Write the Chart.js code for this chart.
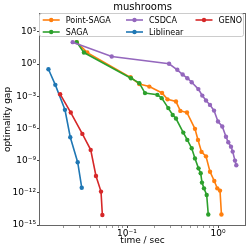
<!DOCTYPE html>
<html><head><meta charset="utf-8">
<script src="https://cdn.jsdelivr.net/npm/chart.js@4.4.1/dist/chart.umd.min.js"></script>
<style>html,body{margin:0;padding:0;background:#fff;overflow:hidden}#wrap{width:249px;height:249px;position:relative}</style>
</head><body><div id="wrap"><canvas id="c" width="249" height="249"></canvas></div>
<script>
const chartTitle = 'mushrooms';
const xAxisTitle = 'time / sec';
const yAxisTitle = 'optimality gap';
const seriesNames = ['Point-SAGA', 'SAGA', 'CSDCA', 'Liblinear', 'GENO'];
const seriesColors = ['#ff7f0e', '#2ca02c', '#9467bd', '#1f77b4', '#d62728'];

const pointSagaTime = [0.0280, 0.0366, 0.1092, 0.1365, 0.1758, 0.2427, 0.2786, 0.3453, 0.3854, 0.4560, 0.5585, 0.6026, 0.6592, 0.7380, 0.817, 0.910, 0.982, 1.052, 1.091];
const pointSagaGap  = [110, 11.7, 0.058, 0.014, 7.9e-3, 2.0e-3, 5.1e-4, 3.2e-4, 4.3e-5, 3.0e-5, 9.1e-7, 8.5e-8, 6.5e-9, 2.5e-9, 9.3e-11, 1.26e-11, 2.6e-12, 1.6e-12, 9.5e-15];

const sagaTime = [0.0280, 0.0336, 0.1107, 0.1365, 0.1577, 0.2155, 0.2406, 0.2843, 0.3178, 0.3453, 0.4155, 0.4600, 0.5140, 0.5585, 0.6105, 0.6453, 0.6668, 0.7015, 0.7510, 0.7816];
const sagaGap  = [110, 11.7, 0.048, 0.0166, 1.95e-3, 1.35e-3, 6.6e-4, 7.8e-5, 1.8e-5, 8.3e-6, 4.1e-7, 8.5e-8, 1.4e-8, 1.6e-9, 1.9e-10, 6.6e-11, 8.9e-12, 2.6e-12, 6.3e-13, 9.5e-15];

const csdcaTime = [0.0253, 0.0679, 0.290, 0.357, 0.409, 0.460, 0.514, 0.608, 0.672, 0.738, 0.817, 0.904, 1.0, 1.114, 1.224, 1.297, 1.389, 1.45, 1.537, 1.589];
const csdcaGap  = [110, 5.0, 1.05, 0.29, 0.105, 0.048, 0.020, 4.6e-3, 1.15e-3, 4.0e-4, 1.55e-4, 4.6e-5, 4.4e-6, 1.5e-6, 1.7e-7, 5.1e-8, 2.0e-8, 6.9e-9, 1.0e-9, 3.7e-10];

const liblinearTime = [0.0137, 0.0163, 0.0208, 0.0238, 0.0287, 0.0318];
const liblinearGap  = [0.33, 1.15e-2, 5.4e-5, 1.5e-7, 7.1e-10, 3.0e-12];

const genoTime = [0.0184, 0.0241, 0.0323, 0.0399, 0.0456, 0.0518, 0.0536];
const genoGap  = [1.55e-3, 3.0e-5, 3.1e-7, 1.0e-8, 3.7e-11, 1.3e-12, 8.5e-15];

const xMin = 0.01106, xMax = 1.98;
const yMin = 1e-15, yMax = 4.6e4;
const xTickValues = [0.02, 0.03, 0.04, 0.05, 0.06, 0.07, 0.08, 0.09, 0.1, 0.2, 0.3, 0.4, 0.5, 0.6, 0.7, 0.8, 0.9, 1];
const xMajorValues = [0.1, 1];
const xMajorLabels = ['10⁻¹', '10⁰'];
const yTickValues = [1e3, 1, 1e-3, 1e-6, 1e-9, 1e-12, 1e-15];
const yTickLabels = ['10³', '10⁰', '10⁻³', '10⁻⁶', '10⁻⁹', '10⁻¹²', '10⁻¹⁵'];

const allTimes = [pointSagaTime, sagaTime, csdcaTime, liblinearTime, genoTime];
const allGaps = [pointSagaGap, sagaGap, csdcaGap, liblinearGap, genoGap];

const FONT = 'DejaVu Sans';

function near(a, b) { return Math.abs(Math.log10(a) - Math.log10(b)) < 1e-6; }

const datasets = seriesNames.map((name, i) => ({
  label: name,
  data: allTimes[i].map((t, k) => ({x: t, y: allGaps[i][k]})),
  borderColor: seriesColors[i],
  backgroundColor: seriesColors[i],
  borderWidth: 1.6,
  pointRadius: 2.2,
  pointBorderWidth: 0,
  pointHoverRadius: 2.2,
  tension: 0,
  fill: false,
  order: seriesNames.length - i
}));

const framePlugin = {
  id: 'frame',
  afterDatasetsDraw(chart) {
    const a = chart.chartArea, ctx = chart.ctx;
    ctx.save();
    ctx.strokeStyle = '#666';
    ctx.lineWidth = 1;
    ctx.strokeRect(a.left - 0.5, a.top - 0.5, a.right - a.left + 1, a.bottom - a.top + 1);
    ctx.restore();
  },
  afterDraw(chart) {
    const a = chart.chartArea, ctx = chart.ctx;
    ctx.save();
    ctx.fillStyle = '#000';
    ctx.font = '10px "' + FONT + '"';
    ctx.textAlign = 'center';
    ctx.textBaseline = 'middle';
    ctx.fillText(chartTitle, (a.left + a.right) / 2, 7);
    const bx = a.left - 0.5, by = a.top - 0.5, bw = a.right - a.left - 1, bh = 23;
    const r = 2;
    ctx.beginPath();
    ctx.moveTo(bx + r, by);
    ctx.lineTo(bx + bw - r, by); ctx.arcTo(bx + bw, by, bx + bw, by + r, r);
    ctx.lineTo(bx + bw, by + bh - r); ctx.arcTo(bx + bw, by + bh, bx + bw - r, by + bh, r);
    ctx.lineTo(bx + r, by + bh); ctx.arcTo(bx, by + bh, bx, by + bh - r, r);
    ctx.lineTo(bx, by + r); ctx.arcTo(bx, by, bx + r, by, r);
    ctx.closePath();
    ctx.fillStyle = 'rgba(255,255,255,0.8)';
    ctx.fill();
    ctx.strokeStyle = '#cccccc';
    ctx.lineWidth = 1;
    ctx.stroke();
    const colX = [a.left + 2.7, a.left + 86, a.left + 155.5];
    const rowY = [a.top + 6, a.top + 18];
    ctx.font = '8px "' + FONT + '"';
    ctx.textAlign = 'left';
    ctx.textBaseline = 'middle';
    seriesNames.forEach((name, i) => {
      const x = colX[Math.floor(i / 2)], y = rowY[i % 2];
      ctx.strokeStyle = seriesColors[i];
      ctx.lineWidth = 1.6;
      ctx.beginPath(); ctx.moveTo(x, y); ctx.lineTo(x + 17, y); ctx.stroke();
      ctx.fillStyle = seriesColors[i];
      ctx.beginPath(); ctx.arc(x + 8.5, y, 2.2, 0, Math.PI * 2); ctx.fill();
      ctx.fillStyle = '#000';
      ctx.fillText(name, x + 23, y + 0.5);
    });
    ctx.restore();
  }
};

new Chart(document.getElementById('c'), {
  type: 'line',
  data: { datasets },
  options: {
    responsive: false,
    animation: false,
    devicePixelRatio: 1,
    layout: { padding: { top: 14, right: 4, left: 0, bottom: 0 } },
    plugins: { legend: { display: false }, title: { display: false }, tooltip: { enabled: false } },
    scales: {
      x: {
        type: 'logarithmic',
        min: xMin, max: xMax,
        afterBuildTicks(scale) { scale.ticks = xTickValues.map(v => ({ value: v, major: xMajorValues.some(m => near(m, v)) })); },
        afterFit(scale) { scale.height = 24; },
        ticks: {
          autoSkip: false, maxRotation: 0, minRotation: 0, padding: 0,
          color: '#000', font: { family: FONT, size: 9 },
          callback(v) { const k = xMajorValues.findIndex(m => near(m, v)); return k >= 0 ? xMajorLabels[k] : ''; }
        },
        grid: {
          drawOnChartArea: false, drawTicks: true, tickLength: 3,
          tickColor: ctx => (ctx.tick && ctx.tick.major) ? '#444' : '#999'
        },
        border: { display: false },
        title: { display: true, text: xAxisTitle, color: '#000', font: { family: FONT, size: 9 }, padding: { top: 0, bottom: 3 } }
      },
      y: {
        type: 'logarithmic',
        min: yMin, max: yMax,
        afterBuildTicks(scale) { scale.ticks = yTickValues.map(v => ({ value: v })); },
        afterFit(scale) { scale.width = 40; },
        ticks: {
          autoSkip: false, padding: 1,
          color: '#000', font: { family: FONT, size: 9 },
          callback(v) { const k = yTickValues.findIndex(m => near(m, v)); return k >= 0 ? yTickLabels[k] : ''; }
        },
        grid: { drawOnChartArea: false, drawTicks: true, tickLength: 3, tickColor: '#444' },
        border: { display: false },
        title: { display: true, text: yAxisTitle, color: '#000', font: { family: FONT, size: 9 }, padding: { top: 2.6, bottom: 0 } }
      }
    }
  },
  plugins: [framePlugin]
});
</script></body></html>
